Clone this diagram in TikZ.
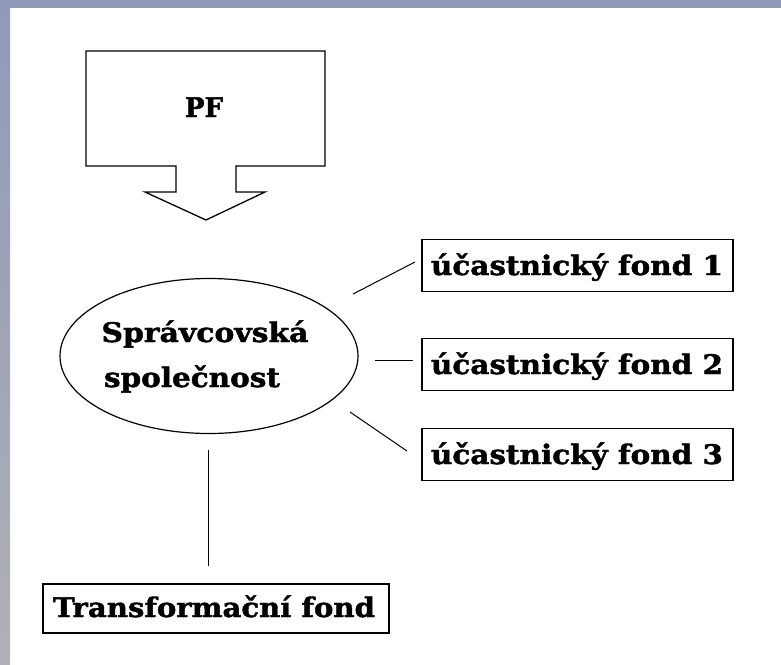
\documentclass[tikz,border=0pt]{standalone}
\usepackage{fontspec}
\usepackage{graphicx}
\setmainfont{DejaVu Serif}[BoldFeatures={FakeBold=1.5}]
\usetikzlibrary{shapes.geometric}
\definecolor{bandtop}{HTML}{8F9AB8}
\definecolor{bandbot}{HTML}{B0B0B6}
\newcommand{\fitw}[2]{\resizebox{#1}{\height}{#2}}
\begin{document}
\begin{tikzpicture}[x=1pt,y=-1pt,
  lbl/.style={font=\fontsize{27}{30}\selectfont\bfseries, inner sep=0pt},
  fbox/.style={draw, line width=1.3pt, minimum height=52pt, inner sep=0pt},
  conn/.style={line width=1pt}]
\useasboundingbox (0,0) rectangle (781,664);
\fill[white] (0,0) rectangle (781,664);
\fill[bandtop] (0,0) rectangle (781,8);
\shade[top color=bandtop, bottom color=bandbot] (0,0) rectangle (10,664);
% PF arrow
\draw[line width=1.3pt, line join=miter] (86,51) -- (325,51) -- (325,166) -- (236,166) -- (236,192) -- (265,192) -- (206,220) -- (145,192) -- (176,192) -- (176,166) -- (86,166) -- cycle;
\node[lbl, anchor=base] (pf) at (204,117) {\fitw{38pt}{PF}};
% ellipse
\node[draw, ellipse, line width=1.2pt, minimum width=298pt, minimum height=155pt, inner sep=0pt] (sp) at (209,356) {};
\node[lbl, anchor=base] (sp1) at (205,342) {\fitw{207pt}{Správcovská}};
\node[lbl, anchor=base] (sp2) at (192,387) {\fitw{176pt}{společnost}};
% boxes
\node[fbox, minimum width=311pt] (f1) at (577.5,265.5) {};
\node[lbl, anchor=base] at (577,275) {\fitw{292pt}{účastnický fond 1}};
\node[fbox, minimum width=311pt] (f2) at (577.5,364.5) {};
\node[lbl, anchor=base] at (577,374) {\fitw{292pt}{účastnický fond 2}};
\node[fbox, minimum width=311pt] (f3) at (577.5,454.5) {};
\node[lbl, anchor=base] at (577,464) {\fitw{292pt}{účastnický fond 3}};
\node[fbox, minimum width=346pt, minimum height=49pt] (tf) at (216,608.5) {};
\node[lbl, anchor=base] at (214,617) {\fitw{322pt}{Transformační fond}};
% connectors
\coordinate (a1) at (353,294); \coordinate (b1) at (415,262);
\coordinate (a2) at (375,360); \coordinate (b2) at (413,360);
\coordinate (a3) at (350,412); \coordinate (b3) at (407,451);
\coordinate (a4) at (208,450); \coordinate (b4) at (208,566);
\draw[conn] (a1) -- (b1);
\draw[conn] (a2) -- (b2);
\draw[conn] (a3) -- (b3);
\draw[conn] (a4) -- (b4);
\end{tikzpicture}
\end{document}
